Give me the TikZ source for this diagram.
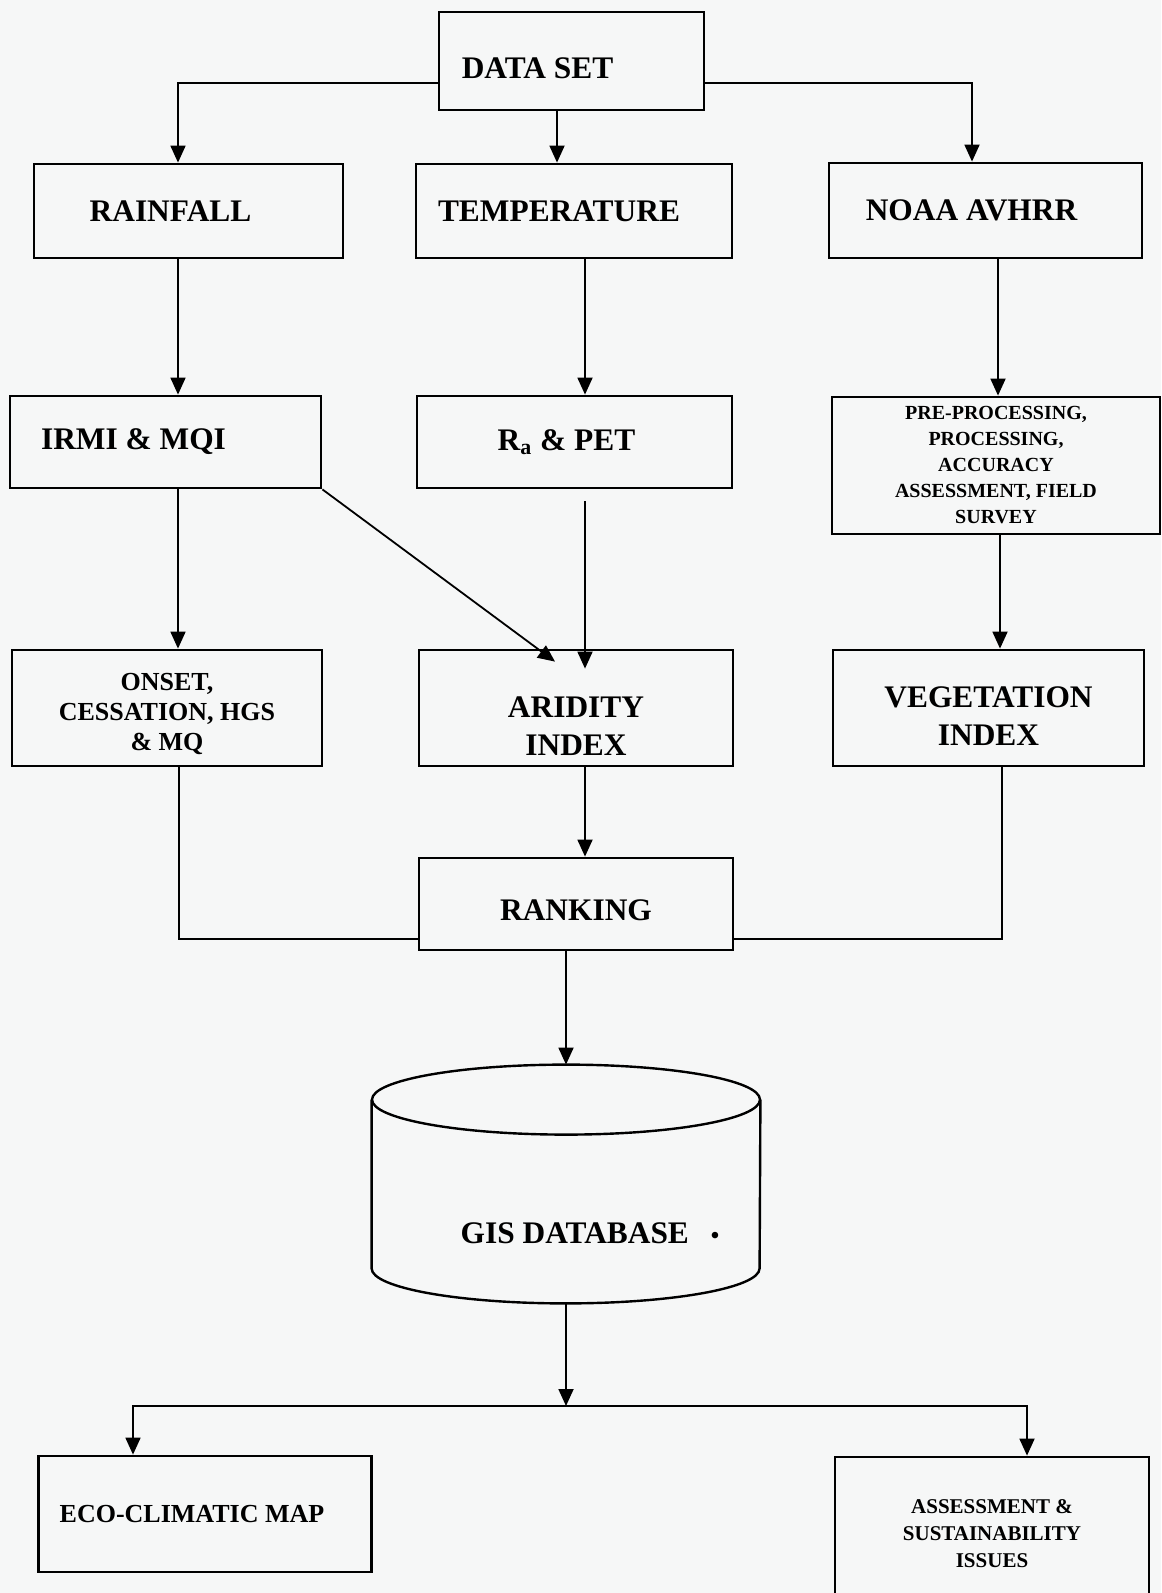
\documentclass[tikz,border=0pt]{standalone}
\usepackage{fontspec}
\setmainfont{Liberation Serif}
\usetikzlibrary{arrows.meta}
\definecolor{paper}{RGB}{246,247,247}

\begin{document}
\begin{tikzpicture}[
        x=0.5pt, y=-0.5pt,
        every node/.style={align=center},
        box/.style={
            rectangle, draw=black, line width=1.4pt, inner sep=2pt,
            font=\bfseries\fontsize{15.7}{19}\selectfont
        },
        small/.style={font=\bfseries\fontsize{10}{13}\selectfont},
        mid/.style={font=\bfseries\fontsize{13}{15}\selectfont},
        store/.style={
            rectangle, inner sep=0pt, minimum width=194pt,
            text height=89pt, text depth=30pt,
            font=\bfseries\fontsize{15.7}{19}\selectfont
        },
        arr/.style={-{Triangle[length=8.5pt,width=7.5pt]}, line width=0.9pt},
        link/.style={line width=0.9pt},
    ]

    \clip (0,0) rectangle (1161,1593);
    \fill [paper] (0,0) rectangle (1161,1593);

    \node (data)   [box, minimum width=132.5pt, minimum height=49pt] at (571.5,61) {\rule{0pt}{17.4pt}DATA SET\hspace*{34pt}};
    \node (rain)   [box, minimum width=154.5pt, minimum height=47pt] at (188.5,211) {RAINFALL\hspace*{18pt}};
    \node (temp)   [box, minimum width=158pt, minimum height=47pt] at (574,211) {TEMPERATURE\hspace*{15pt}};
    \node (noaa)   [box, minimum width=156.5pt, minimum height=47.5pt] at (985.5,210.5) {NOAA AVHRR\hspace*{14pt}};
    \node (irmi)   [box, minimum width=155.5pt, minimum height=46pt] at (165.5,442) {IRMI \& MQI\hspace*{32pt}};
    \node (ra)     [box, minimum width=157.5pt, minimum height=46pt] at (574.5,442) {R\textsubscript{a} \& PET\hspace*{8pt}};
    \node (pre)    [box, small, minimum width=164pt, minimum height=68.5pt] at (996,465.5)
                   {PRE-PROCESSING,\\PROCESSING,\\ACCURACY\\ASSESSMENT, FIELD\\SURVEY};
    \node (onset)  [box, mid, minimum width=155pt, minimum height=58pt] at (167,708) {\rule{0pt}{14.6pt}ONSET,\\CESSATION, HGS\\\& MQ};
    \node (arid)   [box, minimum width=157pt, minimum height=58pt] at (576,708) {\rule{0pt}{28.4pt}ARIDITY\\INDEX};
    \node (veg)    [box, minimum width=155.5pt, minimum height=58pt] at (988.5,708) {\rule{0pt}{19pt}VEGETATION\\INDEX};
    \node (rank)   [box, minimum width=157pt, minimum height=46pt] at (576,904) {\rule{0pt}{16.4pt}RANKING};
    \node (gis)    [store] at (566,1184)
                   {\hspace*{24pt}GIS DATABASE\hspace{11pt}{\fontsize{12}{12}\selectfont\textbullet}};
    \node (eco)    [box, mid, minimum width=166.75pt, minimum height=58pt] at (205,1514) {ECO-CLIMATIC MAP\hspace*{13pt}};
    \node (assess) [box, font=\bfseries\fontsize{10.5}{13.5}\selectfont, minimum width=157pt, minimum height=77pt] at (992,1534)
                   {ASSESSMENT \&\\SUSTAINABILITY\\ISSUES};

    % cylinder outline round the database node
    \draw [line width=1.2pt] ([yshift=-17.5pt]gis.north west) -- ([yshift=17.5pt]gis.south west)
        arc [start angle=180, end angle=360, x radius=97pt, y radius=17.5pt]
        -- ([yshift=-17.5pt]gis.north east);
    \draw [line width=1.2pt] ([yshift=-17.5pt]gis.north) ellipse [x radius=97pt, y radius=17.5pt];

    \draw [arr] ([yshift=-11pt]data.west) -| ([xshift=-5.25pt]rain.north);
    \draw [arr] ([xshift=-7.25pt]data.south) -- ([xshift=-7.25pt]data.south |- temp.north);
    \draw [arr] ([yshift=-11pt]data.east) -| ([xshift=-6.75pt]noaa.north);
    \draw [arr] ([xshift=-5.25pt]rain.south) -- ([xshift=-5.25pt]rain.south |- irmi.north);
    \draw [arr] ([xshift=5.5pt]temp.south) -- ([xshift=5.5pt]temp.south |- ra.north);
    \draw [arr] ([xshift=6.25pt]noaa.south) -- ([xshift=6.25pt]noaa.south |- pre.north);
    \draw [arr] ([xshift=6.25pt]irmi.south) -- ([xshift=6.25pt]irmi.south |- onset.north);
    \draw [arr] (irmi.south east) -- ([xshift=-10.5pt,yshift=-6.5pt]arid.north);
    \draw [arr] ([xshift=5.25pt,yshift=-6pt]ra.south) -- ([xshift=4.5pt,yshift=-10pt]arid.north);
    \draw [arr] ([xshift=2pt]pre.south) -- ([xshift=2pt]pre.south |- veg.north);
    \draw [arr] ([xshift=4.5pt]arid.south) -- ([xshift=4.5pt]arid.south |- rank.north);
    \draw [link] ([xshift=6pt]onset.south) |- ([yshift=-17.5pt]rank.west);
    \draw [link] ([xshift=6.75pt]veg.south) |- ([yshift=-17.5pt]rank.east);
    \draw [arr] (rank.south -| gis.north) -- (gis.north);

    \coordinate (split) at (566,1406);
    \draw [arr] (gis.south) -- (split);
    \draw [arr] (split) -| ([xshift=-36pt]eco.north);
    \draw [arr] (split) -| ([xshift=17.5pt]assess.north);

\end{tikzpicture}
\end{document}
